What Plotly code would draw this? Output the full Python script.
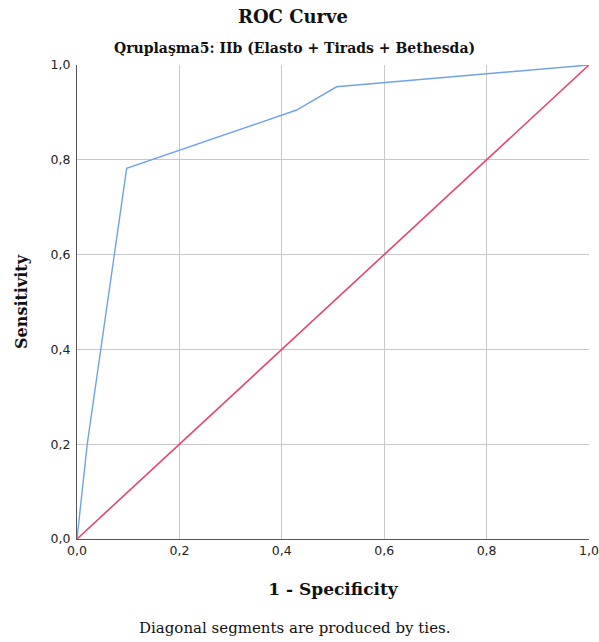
import plotly.graph_objects as go

# ROC curve data (1 - Specificity, Sensitivity)
fpr = [0.0, 0.02, 0.097, 0.429, 0.507, 1.0]
tpr = [0.0, 0.20, 0.782, 0.905, 0.954, 1.0]
ref_x = [0.0, 1.0]
ref_y = [0.0, 1.0]
tick_vals = [0.0, 0.2, 0.4, 0.6, 0.8, 1.0]
tick_text = ["0,0", "0,2", "0,4", "0,6", "0,8", "1,0"]

serif = "DejaVu Serif, Liberation Serif, serif"
sans = "DejaVu Sans, Verdana, sans-serif"

fig = go.Figure()
fig.add_trace(go.Scatter(x=ref_x, y=ref_y, mode="lines",
                         line=dict(color="#e6456f", width=1.6),
                         hoverinfo="skip", showlegend=False, cliponaxis=False))
fig.add_trace(go.Scatter(x=fpr, y=tpr, mode="lines",
                         line=dict(color="#6fa3ea", width=1.4),
                         showlegend=False, cliponaxis=False))

fig.update_layout(
    width=599, height=642,
    margin=dict(l=77, r=10, t=65, b=103, autoexpand=False),
    paper_bgcolor="white", plot_bgcolor="white",
    separators=",.",
    showlegend=False,
    title=dict(text="<b>ROC Curve</b>", x=(293) / 599, xanchor="center",
               y=1 - 17 / 642, yanchor="middle",
               font=dict(family=serif, size=18, color="#111")),
    annotations=[
        dict(text="<b>Qruplaşma5: IIb (Elasto + Tirads + Bethesda)</b>",
             xref="paper", yref="paper", x=(294 - 77) / 512, y=1 + 17 / 474,
             xanchor="center", yanchor="middle", showarrow=False,
             font=dict(family=serif, size=14, color="#111")),
        dict(text="Diagonal segments are produced by ties.",
             xref="paper", yref="paper", x=(294 - 77) / 512, y=-(628 - 539) / 474,
             xanchor="center", yanchor="middle", showarrow=False,
             font=dict(family=serif, size=15, color="#111")),
    ],
    xaxis=dict(range=[0, 1], tickvals=tick_vals, ticktext=tick_text,
               automargin=False,
               showgrid=True, gridcolor="#c8c8c8", gridwidth=1,
               showline=True, linecolor="#555", linewidth=1,
               ticks="", zeroline=False,
               tickfont=dict(family=sans, size=12.5, color="#222"),
               title=dict(text="<b>1 - Specificity</b>", standoff=26,
                          font=dict(family=serif, size=17, color="#111"))),
    yaxis=dict(range=[0, 1], tickvals=tick_vals, ticktext=tick_text,
               automargin=False, ticklabelstandoff=3,
               showgrid=True, gridcolor="#c8c8c8", gridwidth=1,
               showline=True, linecolor="#555", linewidth=1,
               ticks="", zeroline=False,
               tickfont=dict(family=sans, size=12.5, color="#222"),
               title=dict(text="<b>Sensitivity</b>", standoff=19,
                          font=dict(family=serif, size=16, color="#111"))),
)

fig.write_html("out.html", config={"displayModeBar": False},
               post_script="document.body.style.margin='0';document.body.style.overflow='hidden';")
